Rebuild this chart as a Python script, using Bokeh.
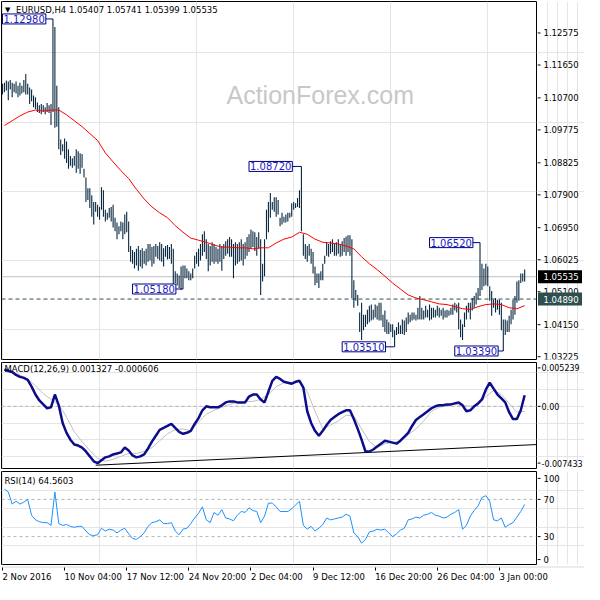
from bokeh.plotting import figure
from bokeh.layouts import column, row
from bokeh.models import Range1d, FixedTicker, Span, Label
from bokeh.core.properties import value
from bokeh.embed import file_html
from bokeh.resources import INLINE

# ---------------- data (EURUSD H4) ----------------
highs = [
    1.1111, 1.1114, 1.1120, 1.1117, 1.1122, 1.1114, 1.1111, 1.1117, 1.1105, 1.1114,
    1.1105, 1.1122, 1.1139, 1.1111, 1.1100, 1.1094, 1.1077, 1.1072, 1.1057, 1.1049,
    1.1052, 1.1049, 1.1043, 1.1055, 1.1049, 1.1052, 1.1298, 1.1275, 1.1105, 1.1043,
    1.0950, 1.0936, 1.0953, 1.0944, 1.0922, 1.0902, 1.0896, 1.0902, 1.0922, 1.0916,
    1.0910, 1.0908, 1.0865, 1.0840, 1.0809, 1.0809, 1.0789, 1.0769, 1.0769, 1.0761,
    1.0755, 1.0812, 1.0803, 1.0747, 1.0738, 1.0752, 1.0755, 1.0761, 1.0724, 1.0710,
    1.0699, 1.0713, 1.0710, 1.0733, 1.0741, 1.0713, 1.0642, 1.0631, 1.0625, 1.0634,
    1.0642, 1.0631, 1.0636, 1.0628, 1.0634, 1.0648, 1.0648, 1.0639, 1.0642, 1.0648,
    1.0642, 1.0653, 1.0648, 1.0636, 1.0642, 1.0645, 1.0639, 1.0648, 1.0634, 1.0569,
    1.0563, 1.0557, 1.0583, 1.0586, 1.0586, 1.0577, 1.0569, 1.0563, 1.0577, 1.0614,
    1.0625, 1.0634, 1.0648, 1.0676, 1.0685, 1.0662, 1.0648, 1.0642, 1.0653, 1.0648,
    1.0639, 1.0634, 1.0648, 1.0642, 1.0648, 1.0656, 1.0662, 1.0668, 1.0662, 1.0648,
    1.0653, 1.0648, 1.0653, 1.0662, 1.0648, 1.0653, 1.0668, 1.0676, 1.0690, 1.0685,
    1.0682, 1.0668, 1.0682, 1.0662, 1.0591, 1.0662, 1.0747, 1.0769, 1.0795, 1.0769,
    1.0783, 1.0783, 1.0775, 1.0724, 1.0738, 1.0727, 1.0733, 1.0738, 1.0738, 1.0766,
    1.0769, 1.0766, 1.0781, 1.0803, 1.0872, 1.0676, 1.0648, 1.0642, 1.0648, 1.0634,
    1.0625, 1.0583, 1.0563, 1.0563, 1.0569, 1.0591, 1.0614, 1.0653, 1.0648, 1.0656,
    1.0662, 1.0648, 1.0653, 1.0662, 1.0648, 1.0656, 1.0665, 1.0670, 1.0673, 1.0673,
    1.0662, 1.0543, 1.0515, 1.0501, 1.0450, 1.0478, 1.0444, 1.0444, 1.0458, 1.0470,
    1.0473, 1.0458, 1.0473, 1.0470, 1.0478, 1.0478, 1.0444, 1.0456, 1.0430, 1.0422,
    1.0416, 1.0416, 1.0399, 1.0408, 1.0422, 1.0413, 1.0430, 1.0427, 1.0436, 1.0450,
    1.0444, 1.0450, 1.0450, 1.0444, 1.0464, 1.0498, 1.0464, 1.0456, 1.0470, 1.0458,
    1.0473, 1.0464, 1.0464, 1.0458, 1.0470, 1.0464, 1.0458, 1.0464, 1.0456, 1.0458,
    1.0456, 1.0464, 1.0473, 1.0478, 1.0473, 1.0478, 1.0430, 1.0416, 1.0450, 1.0470,
    1.0478, 1.0478, 1.0492, 1.0498, 1.0507, 1.0521, 1.0652, 1.0591, 1.0577, 1.0591,
    1.0583, 1.0526, 1.0512, 1.0487, 1.0492, 1.0487, 1.0487, 1.0478, 1.0430, 1.0430,
    1.0427, 1.0441, 1.0458, 1.0487, 1.0498, 1.0540, 1.0543, 1.0563, 1.0563, 1.05741,
]
lows = [
    1.1080, 1.1086, 1.1091, 1.1063, 1.1094, 1.1072, 1.1086, 1.1083, 1.1072, 1.1077,
    1.1083, 1.1086, 1.1080, 1.1080, 1.1052, 1.1060, 1.1043, 1.1038, 1.1029, 1.1026,
    1.1023, 1.1029, 1.1023, 1.1029, 1.1026, 1.0992, 1.1029, 1.0984, 1.0987, 1.0922,
    1.0905, 1.0916, 1.0894, 1.0882, 1.0865, 1.0874, 1.0868, 1.0874, 1.0854, 1.0865,
    1.0851, 1.0868, 1.0840, 1.0769, 1.0775, 1.0752, 1.0727, 1.0704, 1.0741, 1.0727,
    1.0718, 1.0747, 1.0727, 1.0713, 1.0718, 1.0724, 1.0713, 1.0696, 1.0685, 1.0662,
    1.0676, 1.0685, 1.0662, 1.0676, 1.0682, 1.0625, 1.0597, 1.0591, 1.0577, 1.0586,
    1.0571, 1.0583, 1.0577, 1.0591, 1.0586, 1.0597, 1.0600, 1.0583, 1.0591, 1.0611,
    1.0605, 1.0600, 1.0597, 1.0583, 1.0611, 1.0603, 1.0605, 1.0591, 1.0526, 1.0535,
    1.0529, 1.0521, 1.0515, 1.0518, 1.0549, 1.0549, 1.0543, 1.0543, 1.0549, 1.0577,
    1.0591, 1.0583, 1.0600, 1.0614, 1.0625, 1.0605, 1.0569, 1.0586, 1.0597, 1.0591,
    1.0597, 1.0591, 1.0597, 1.0571, 1.0605, 1.0614, 1.0620, 1.0611, 1.0611, 1.0549,
    1.0586, 1.0591, 1.0597, 1.0600, 1.0586, 1.0605, 1.0614, 1.0625, 1.0634, 1.0639,
    1.0628, 1.0614, 1.0634, 1.0501, 1.0540, 1.0555, 1.0662, 1.0682, 1.0724, 1.0747,
    1.0741, 1.0727, 1.0733, 1.0699, 1.0704, 1.0710, 1.0710, 1.0713, 1.0724, 1.0727,
    1.0747, 1.0752, 1.0755, 1.0752, 1.0685, 1.0614, 1.0605, 1.0597, 1.0614, 1.0591,
    1.0563, 1.0529, 1.0535, 1.0521, 1.0543, 1.0543, 1.0591, 1.0614, 1.0611, 1.0620,
    1.0625, 1.0614, 1.0614, 1.0620, 1.0611, 1.0614, 1.0625, 1.0614, 1.0625, 1.0614,
    1.0492, 1.0464, 1.0484, 1.0470, 1.0394, 1.0371, 1.0399, 1.0408, 1.0416, 1.0422,
    1.0427, 1.0430, 1.0436, 1.0430, 1.0427, 1.0427, 1.0408, 1.0394, 1.0388, 1.0388,
    1.0394, 1.0379, 1.0351, 1.0385, 1.0388, 1.0388, 1.0388, 1.0385, 1.0394, 1.0416,
    1.0422, 1.0427, 1.0430, 1.0427, 1.0430, 1.0430, 1.0430, 1.0430, 1.0436, 1.0436,
    1.0427, 1.0430, 1.0436, 1.0436, 1.0441, 1.0436, 1.0441, 1.0430, 1.0436, 1.0436,
    1.0441, 1.0444, 1.0444, 1.0456, 1.0450, 1.0402, 1.0379, 1.0371, 1.0408, 1.0430,
    1.0450, 1.0430, 1.0456, 1.0464, 1.0473, 1.0487, 1.0498, 1.0515, 1.0526, 1.0529,
    1.0526, 1.0484, 1.0441, 1.0464, 1.0450, 1.0458, 1.0444, 1.0399, 1.0339, 1.0385,
    1.0394, 1.0394, 1.0416, 1.0430, 1.0444, 1.0478, 1.0484, 1.0535, 1.0540, 1.05399,
]
# moving average, one value every 4 bars starting at bar 1
ma_vals = [
    1.0990, 1.1004, 1.1018, 1.1029, 1.1035, 1.1032, 1.1035, 1.1035, 1.1021, 1.1004,
    1.0987, 1.0967, 1.0947, 1.0911, 1.0885, 1.0860, 1.0837, 1.0806, 1.0778, 1.0755,
    1.0738, 1.0724, 1.0701, 1.0682, 1.0665, 1.0659, 1.0653, 1.0645, 1.0639, 1.0639,
    1.0637, 1.0637, 1.0634, 1.0637, 1.0637, 1.0651, 1.0662, 1.0668, 1.0682, 1.0676,
    1.0662, 1.0653, 1.0651, 1.0648, 1.0642, 1.0634, 1.0611, 1.0591, 1.0574, 1.0555,
    1.0535, 1.0518, 1.0501, 1.0492, 1.0487, 1.0481, 1.0475, 1.0473, 1.0467, 1.0461,
    1.0459, 1.0467, 1.0473, 1.0475, 1.0473, 1.0464, 1.0461, 1.0470,
]
# MACD(12,26,9) main line, one value every 2 bars starting at bar 1
macd_vals = [
    0.00440, 0.00422, 0.00411, 0.00375, 0.00352, 0.00340, 0.00317, 0.00235, 0.00141, 0.00070,
    0.00023, -0.00023, -0.00012, 0.00141, 0.00012, -0.00199, -0.00317, -0.00399, -0.00457, -0.00469,
    -0.00493, -0.00540, -0.00598, -0.00657, -0.00680, -0.00645, -0.00610, -0.00598, -0.00575, -0.00563,
    -0.00551, -0.00493, -0.00528, -0.00587, -0.00610, -0.00598, -0.00575, -0.00504, -0.00422, -0.00352,
    -0.00282, -0.00258, -0.00235, -0.00211, -0.00258, -0.00305, -0.00328, -0.00317, -0.00293, -0.00211,
    -0.00141, -0.00047, 0.00000, -0.00012, -0.00012, -0.00012, 0.00012, 0.00047, 0.00059, 0.00059,
    0.00047, 0.00047, 0.00047, 0.00117, 0.00141, 0.00141, 0.00082, 0.00047, 0.00176, 0.00305,
    0.00352, 0.00328, 0.00293, 0.00282, 0.00270, 0.00293, 0.00305, 0.00223, -0.00059, -0.00199,
    -0.00293, -0.00352, -0.00293, -0.00223, -0.00164, -0.00129, -0.00094, -0.00070, -0.00047, -0.00047,
    -0.00152, -0.00270, -0.00399, -0.00540, -0.00540, -0.00516, -0.00481, -0.00446, -0.00411, -0.00422,
    -0.00434, -0.00446, -0.00411, -0.00364, -0.00317, -0.00235, -0.00164, -0.00129, -0.00094, -0.00059,
    -0.00023, 0.00000, 0.00012, 0.00012, 0.00023, 0.00023, 0.00035, 0.00047, 0.00012, -0.00059,
    -0.00047, 0.00000, 0.00035, 0.00082, 0.00199, 0.00282, 0.00211, 0.00141, 0.00094, 0.00047,
    -0.00070, -0.00152, -0.00152, -0.00047, 0.001327,
]
# MACD signal line, one value every 4 bars starting at bar 1
signal_vals = [
    0.00434, 0.00411, 0.00375, 0.00328, 0.00246, 0.00152, 0.00082, 0.00023, -0.00129, -0.00305,
    -0.00422, -0.00528, -0.00622, -0.00657, -0.00633, -0.00598, -0.00563, -0.00563, -0.00540, -0.00493,
    -0.00411, -0.00328, -0.00281, -0.00270, -0.00293, -0.00188, -0.00094, -0.00047, -0.00012, 0.00023,
    0.00047, 0.00059, 0.00059, 0.00082, 0.00141, 0.00235, 0.00282, 0.00282, 0.00293, 0.00176,
    -0.00059, -0.00270, -0.00223, -0.00176, -0.00106, -0.00117, -0.00270, -0.00422, -0.00493, -0.00446,
    -0.00434, -0.00411, -0.00340, -0.00270, -0.00176, -0.00059, -0.00012, 0.00012, 0.00023, 0.00012,
    0.00000, 0.00012, 0.00117, 0.00188, 0.00141, 0.00035, -0.00070, -0.000606,
]
# RSI(14), one value every 2 bars starting at bar 1
rsi_vals = [
    81, 78, 65, 68, 65, 67, 70, 53, 48, 46,
    45, 45, 42, 78, 44, 42, 43, 41, 40, 41,
    41, 36, 32, 31, 32, 39, 36, 38, 37, 34,
    37, 39, 33, 28, 27, 30, 34, 41, 45, 46,
    48, 44, 44, 45, 36, 32, 38, 39, 44, 50,
    55, 62, 48, 45, 56, 53, 59, 50, 49, 47,
    53, 57, 56, 61, 58, 57, 45, 52, 66, 66,
    62, 57, 57, 57, 60, 64, 68, 42, 38, 41,
    36, 39, 43, 50, 48, 49, 50, 51, 54, 52,
    34, 30, 23, 27, 35, 36, 38, 37, 38, 34,
    30, 33, 37, 39, 48, 49, 51, 50, 53, 54,
    56, 53, 52, 50, 51, 54, 56, 59, 38, 42,
    52, 58, 63, 72, 74, 68, 48, 47, 50, 40,
    43, 45, 51, 57, 64.5603,
]
# MACD support trend line (bar index, value)
trend_idx = [48, 275.1]
trend_vals = [-0.00704, -0.00457]

# swing high / low marks
mark_text = ["1.12980", "1.08720", "1.06520", "1.05180", "1.03510", "1.03390"]
mark_price = [1.1298, 1.0872, 1.0652, 1.0518, 1.0351, 1.0339]
mark_bar = [26, 154, 246, 93, 202, 258]
mark_label_bar = [0, 127, 220, 67, 175, 233]

bid_price = 1.05535
level_price = 1.04890
tag_price = [bid_price, level_price]
tag_text = ["1.05535", "1.04890"]
tag_color = ["black", "#2f4f4f"]

price_ticks = [1.12575, 1.11650, 1.10700, 1.09775, 1.08825, 1.07900,
               1.06950, 1.06025, 1.05100, 1.04150, 1.03225]
price_tick_text = ["1.12575", "1.11650", "1.10700", "1.09775", "1.08825", "1.07900",
                   "1.06950", "1.06025", "1.05100", "1.04150", "1.03225"]
macd_tick_pos = [0.004594, 0.0, -0.006788]
macd_tick_text = ["0.005239", "0.00", "-0.007433"]
rsi_tick_pos = [92.6, 70, 30, 5.3]
rsi_tick_text = ["100", "70", "30", "0"]
date_tick_idx = [0, 32, 64, 96, 128, 160, 192, 224, 256]
date_labels = ["2 Nov 2016", "10 Nov 04:00", "17 Nov 12:00", "24 Nov 20:00",
               "2 Dec 04:00", "9 Dec 12:00", "16 Dec 20:00", "26 Dec 04:00",
               "3 Jan 00:00"]

title_text = "EURUSD,H4 1.05407 1.05741 1.05399 1.05535"
macd_title = "MACD(12,26,9) 0.001327 -0.000606"
rsi_title = "RSI(14) 64.5603"

# ---------------- drawing ----------------
FONT = "DejaVu Sans"
FW = 535      # chart frame width
RW = 47       # right price-scale strip width
H1, H2, H3 = 358, 106, 93
bar_idx = list(range(len(highs)))
ma_idx = [1 + 4 * k for k in range(len(ma_vals))]
macd_idx = [1 + 2 * k for k in range(len(macd_vals))]
sig_idx = [1 + 4 * k for k in range(len(signal_vals))]
rsi_idx = [1 + 2 * k for k in range(len(rsi_vals))]

X0, X1 = -0.5, 275.1
xr = Range1d(X0, X1)


def panel(h, yr):
    p = figure(frame_width=FW, frame_height=h, x_range=xr, y_range=yr,
               output_backend="svg", toolbar_location=None,
               x_axis_location=None, y_axis_location=None,
               min_border_left=1, min_border_right=1, min_border_top=1,
               min_border_bottom=2)
    p.outline_line_color = "black"
    p.outline_line_width = 1
    p.background_fill_color = "white"
    p.border_fill_color = "white"
    return p


def scale(h, yr, ticks, texts, size="8.5px", tx=6):
    q = figure(frame_width=RW, frame_height=h, x_range=Range1d(0, RW), y_range=yr,
               output_backend="svg", toolbar_location=None,
               x_axis_location=None, y_axis_location=None,
               min_border_left=0, min_border_right=0, min_border_top=1,
               min_border_bottom=2)
    q.outline_line_color = None
    q.background_fill_color = "white"
    q.border_fill_color = "white"
    q.segment(x0=0, x1=3, y0=ticks, y1=ticks, line_color="black", line_width=1)
    q.text(x=tx, y=ticks, text=texts, text_font=value(FONT), text_font_size=value(size),
           text_baseline="middle", text_align="left", text_color="black")
    return q


# main price panel
yr1 = Range1d(1.03144, 1.13484)
p1 = panel(H1, yr1)
p1.add_layout(Label(x=115.4, y=1.1077, text="ActionForex.com", text_font="Liberation Sans",
                    text_font_size="25px", text_color="#c8c8c8",
                    text_baseline="alphabetic", level="underlay"))
p1.add_layout(Span(location=bid_price, dimension="width", line_color="#c0c0c0",
                   line_width=1, level="underlay"))
p1.add_layout(Span(location=level_price, dimension="width", line_color="#2f4f4f",
                   line_dash="4 3", line_width=1, level="underlay"))
p1.segment(x0=bar_idx, y0=lows, x1=bar_idx, y1=highs, line_color="#082840", line_width=1.1)
p1.line(ma_idx, ma_vals, line_color="red", line_width=1)
p1.segment(x0=mark_label_bar, y0=mark_price, x1=mark_bar, y1=mark_price,
           line_color="#000080", line_width=1)
for t, px, bx in zip(mark_text, mark_price, mark_label_bar):
    p1.add_layout(Label(x=bx, y=px, text=t, text_align="left", text_baseline="middle",
                        text_font=FONT, text_font_size="10px", text_color="#1d1dc4",
                        background_fill_color="white", border_line_color="#000080",
                        border_line_width=1, padding=1))
p1.add_layout(Label(x=1.3, y=1.1324, text="▼", text_align="left", text_baseline="middle",
                    text_font=FONT, text_font_size="7px", text_color="black"))
p1.add_layout(Label(x=7.0, y=1.1324, text=title_text, text_align="left",
                    text_baseline="middle", text_font=FONT, text_font_size="8.5px",
                    text_color="black"))

q1 = scale(H1, yr1, price_ticks, price_tick_text)
q1.rect(x=22.5, y=tag_price, width=44, height=13, height_units="screen",
        fill_color=tag_color, line_color=None)
q1.text(x=6, y=tag_price, text=tag_text, text_font=value(FONT),
        text_font_size=value("8.5px"), text_baseline="middle", text_align="left",
        text_color="white")

# MACD panel
yr2 = Range1d(-0.007433, 0.005239)
p2 = panel(H2, yr2)
p2.add_layout(Span(location=0, dimension="width", line_color="#b4b4b4",
                   line_dash="3 3", line_width=1, level="underlay"))
p2.line(trend_idx, trend_vals, line_color="black", line_width=1)
p2.line(sig_idx, signal_vals, line_color="#c0c0c0", line_width=1)
p2.line(macd_idx, macd_vals, line_color="#0c0c8c", line_width=2.5)
p2.add_layout(Label(x=1, y=0.00442, text=macd_title, text_align="left",
                    text_baseline="middle", text_font=FONT, text_font_size="8.5px",
                    text_color="black"))
q2 = scale(H2, yr2, macd_tick_pos, macd_tick_text, size="8px", tx=4)

# RSI panel
yr3 = Range1d(0, 100)
p3 = panel(H3, yr3)
for lv in (70, 30):
    p3.add_layout(Span(location=lv, dimension="width", line_color="#b4b4b4",
                       line_dash="3 3", line_width=1, level="underlay"))
p3.line(rsi_idx, rsi_vals, line_color="#1e90ff", line_width=1)
p3.add_layout(Label(x=1, y=89.5, text=rsi_title, text_align="left",
                    text_baseline="middle", text_font=FONT, text_font_size="8.5px",
                    text_color="black"))
q3 = scale(H3, yr3, rsi_tick_pos, rsi_tick_text)

# time axis strip spanning the chart and the price-scale column (same bar spacing)
xa_end = X1 + (1 + RW) * (X1 - X0) / FW
xa = figure(frame_width=FW + 1 + RW, frame_height=1, x_range=Range1d(X0, xa_end),
            y_range=Range1d(0, 1), output_backend="svg", toolbar_location=None,
            x_axis_location="below", y_axis_location=None,
            min_border_left=1, min_border_right=0, min_border_top=0,
            min_border_bottom=16)
xa.outline_line_color = None
xa.background_fill_color = "white"
xa.border_fill_color = "white"
xa.xgrid.visible = False
ax = xa.xaxis[0]
ax.ticker = FixedTicker(ticks=date_tick_idx)
ax.major_label_overrides = dict(zip(date_tick_idx, date_labels))
ax.major_label_orientation = -0.0001
ax.major_label_standoff = 6
ax.axis_line_color = None
ax.major_tick_in = 0
ax.major_tick_out = 3
ax.minor_tick_in = 0
ax.minor_tick_out = 0
ax.major_label_text_font = FONT
ax.major_label_text_font_size = "8.5px"
ax.major_label_text_color = "black"
ax.major_tick_line_color = "black"

layout = column(row(p1, q1, spacing=0), row(p2, q2, spacing=0), row(p3, q3, spacing=0),
                xa, spacing=0)
open("out.html", "w").write(file_html(layout, INLINE, title="EURUSD H4"))
